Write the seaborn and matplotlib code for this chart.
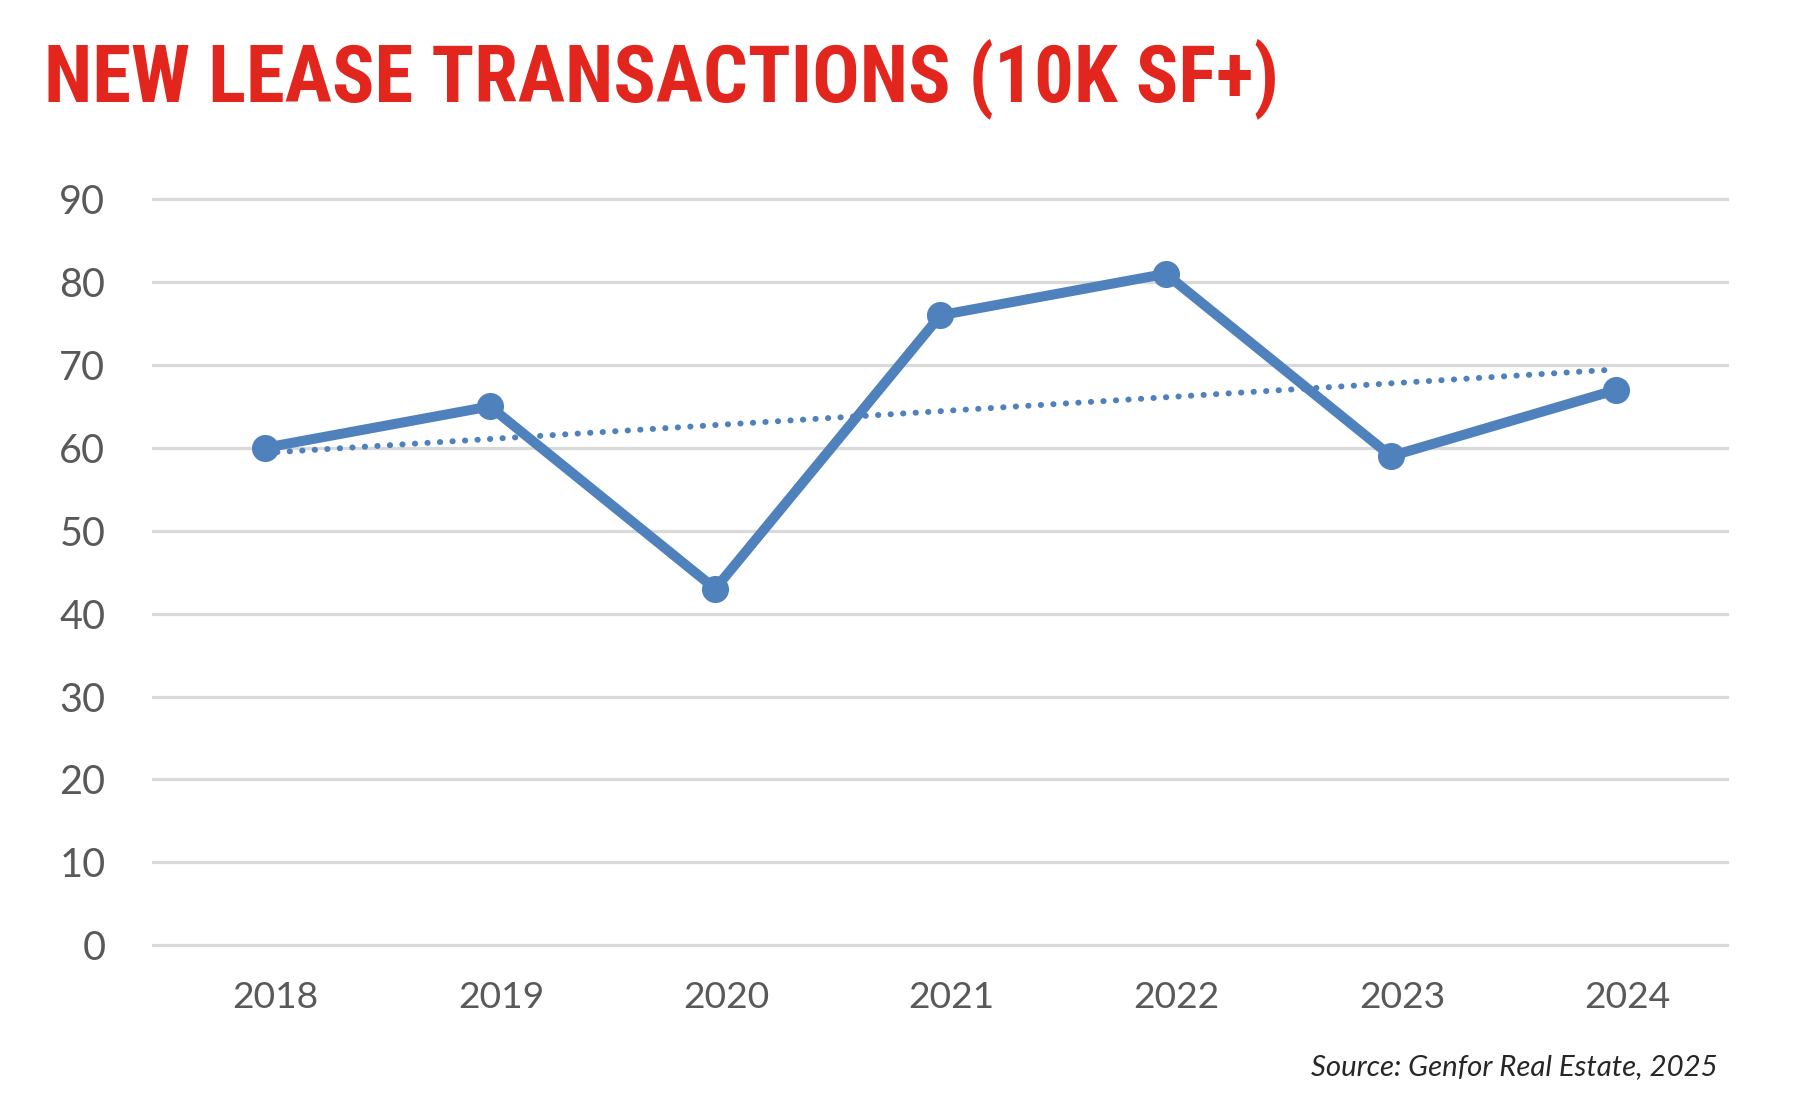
import os
import matplotlib
matplotlib.use('Agg')
import matplotlib.pyplot as plt
import matplotlib.transforms as mtransforms
from matplotlib import font_manager
from matplotlib.font_manager import FontProperties
import numpy as np
import pandas as pd
import seaborn as sns

# ---- data ----
years = ['2018', '2019', '2020', '2021', '2022', '2023', '2024']
transactions = [60, 65, 43, 76, 81, 59, 67]
y_ticks = [0, 10, 20, 30, 40, 50, 60, 70, 80, 90]
title_text = 'NEW LEASE TRANSACTIONS (10K SF+)'
source_text = 'Source: Genfor Real Estate, 2025'

df = pd.DataFrame({'year': years, 'transactions': transactions})

sns.set_theme(style='white')
names = {f.name for f in font_manager.fontManager.ttflist}
body_family = 'Lato' if 'Lato' in names else 'DejaVu Sans'
plt.rcParams['font.family'] = [body_family, 'DejaVu Sans']


def pick_condensed_bold():
    files = [f.fname for f in font_manager.fontManager.ttflist]
    prefs = ['robotocondensed', 'opensanscondensed', 'opensans_condensed',
             'notosanscondensed', 'liberationsansnarrow', 'dejavusanscondensed']
    good = []
    for fn in files:
        b = os.path.basename(fn).lower().replace('-', '').replace(' ', '')
        if 'italic' in b or 'oblique' in b:
            continue
        if 'bold' not in b or 'semibold' in b or 'extrabold' in b:
            continue
        good.append((b, fn))
    for p in prefs:
        for b, fn in good:
            if b.startswith(p):
                return FontProperties(fname=fn), b
    for b, fn in good:
        if 'condensed' in b or 'narrow' in b:
            return FontProperties(fname=fn), b
    return FontProperties(family='Liberation Sans', weight='bold'), 'fallback'


title_fp, title_font_name = pick_condensed_bold()

W, H = 1806, 1111
fig = plt.figure(figsize=(W / 100, H / 100), dpi=100)
left, right, top, bottom = 152.0, 1729.0, 195.9, 948.5
ax = fig.add_axes([left / W, 1 - bottom / H, (right - left) / W, (bottom - top) / H])

blue = '#4F81BD'

# trend line (linear fit) drawn by seaborn
sns.regplot(x=np.arange(len(years)), y=transactions, scatter=False, ci=None,
            truncate=True, ax=ax,
            line_kws=dict(color=blue, lw=4.3, linestyle=(0, (0.05, 2.05)),
                          dash_capstyle='round', zorder=2))

# main series
sns.lineplot(data=df, x='year', y='transactions', ax=ax, color=blue, lw=7.2,
             marker='o', markersize=19.5, markeredgewidth=0, zorder=3,
             sort=False)

ax.set_xlim(-0.5, len(years) - 0.5)
ax.set_ylim(-0.4, 90.4)
ax.set_yticks(y_ticks)
ax.set_xticks(range(len(years)))
ax.set_xticklabels(years)
ax.set_xlabel('')
ax.set_ylabel('')
for s in ax.spines.values():
    s.set_visible(False)
ax.yaxis.grid(True, color='#D9D9D9', lw=2.3)
ax.xaxis.grid(False)
ax.set_axisbelow(True)
ax.tick_params(axis='y', length=0, pad=33.5, labelsize=28.5, labelcolor='#595959')
ax.tick_params(axis='x', length=0, pad=23.5, labelsize=26.8, labelcolor='#595959')
off = mtransforms.ScaledTranslation(11 / 100, 0, fig.dpi_scale_trans)
for lab in ax.get_xticklabels():
    lab.set_transform(lab.get_transform() + off)

# title
t = fig.text(43.7 / W, 1 - 101.3 / H, title_text, ha='left', va='baseline',
             fontproperties=title_fp, fontsize=53, color='#E2261E')
src = fig.text(1718 / W, 1 - 1075 / H, source_text, ha='right', va='baseline',
               fontsize=21, fontstyle='italic', color='#262626')
fig.canvas.draw()
r = fig.canvas.get_renderer()
bb = t.get_window_extent(r)
t.set_fontsize(53 * 1236 / bb.width)
bb2 = src.get_window_extent(r)
src.set_fontsize(21 * 407 / bb2.width)

fig.savefig('out.png', dpi=100)
